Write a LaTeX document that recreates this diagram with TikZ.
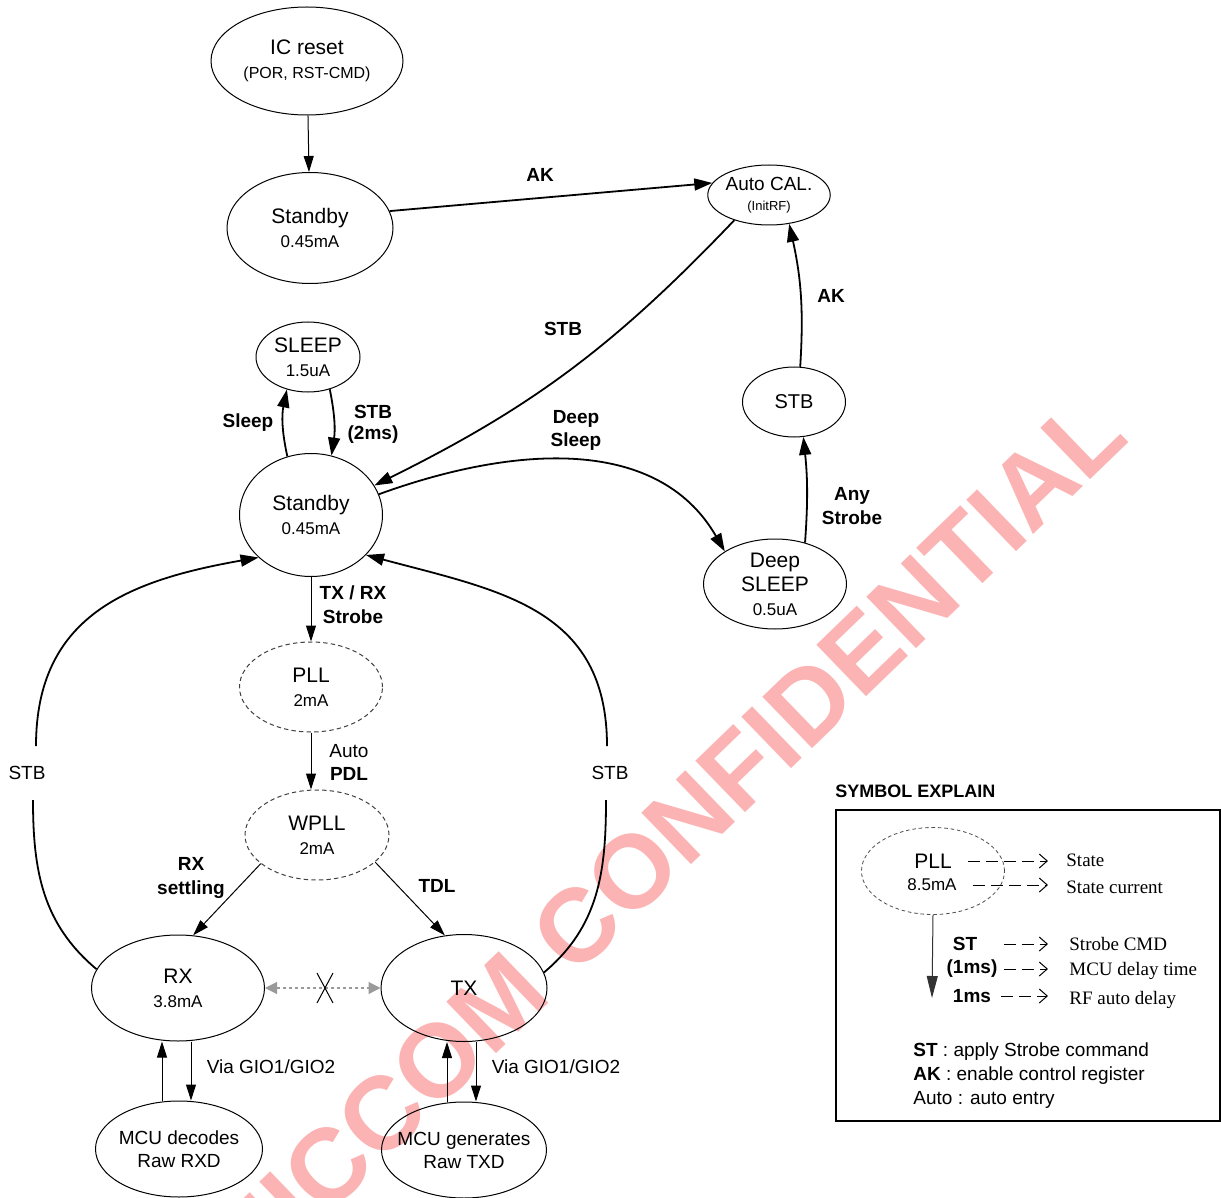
\documentclass[tikz,border=0pt]{standalone}
\usepackage{fontspec}
\setmainfont{Liberation Sans}
\newfontfamily\lgserif{Liberation Serif}
\usetikzlibrary{arrows.meta,shapes.geometric}
\definecolor{FsmGray}{HTML}{9A9A9A}
\definecolor{FsmMark}{HTML}{FCB3B3}
\tikzset{
  fsmstate/.style={
    draw,
    ellipse,
    inner sep=0pt,
    align=center,
    line width=.5pt,
    font=\fontsize{10.5}{12}\selectfont
  },
  fsmwait/.style={
    fsmstate,
    draw=black!75,
    dash pattern=on 2.2pt off 1.6pt
  },
  fsmlabel/.style={font=\bfseries\fontsize{9.5}{11.5}\selectfont,align=center,inner sep=1pt},
  fsmnote/.style={font=\fontsize{9.5}{11.5}\selectfont,align=center,inner sep=1pt},
  fsmarrow/.style={-{Triangle[length=9pt,width=6pt]},line width=.9pt},
  fsmline/.style={line width=.9pt},
  fsmthin/.style={-{Triangle[length=8pt,width=5pt]},line width=.5pt},
  fsmnogo/.style={{Triangle[length=6pt,width=6pt]}-{Triangle[length=6pt,width=6pt]},
    draw=FsmGray,dash pattern=on 1.5pt off 1.5pt,line width=.6pt},
  lgdash/.style={-{Straight Barb[length=4pt,width=7pt]},dash pattern=on 6pt off 3pt,line width=.5pt},
  lgtext/.style={font=\lgserif\fontsize{9.5}{11}\selectfont,anchor=west,inner sep=0pt}
}
\newcommand{\fsmcur}[1]{{\fontsize{8.5}{12}\selectfont #1}}

\begin{document}
\begin{tikzpicture}[x=0.5pt,y=-0.5pt]
  \useasboundingbox (0,0) rectangle (1221,1198);
  % watermark, behind the diagram
  \begin{scope}
    \clip (0,0) rectangle (1221,1198);
    \node[rotate=44,anchor=base east,text=FsmMark,inner sep=0pt,
      font=\bfseries\fontsize{52}{52}\selectfont] (mark) at (1132,440) {AMICCOM CONFIDENTIAL};
  \end{scope}

  % states
  \node[fsmstate,minimum width=96pt,minimum height=54pt] (icreset) at (307,61)
    {IC reset\\{\fontsize{8}{12}\selectfont (POR, RST-CMD)}};
  \node[fsmstate,minimum width=83pt,minimum height=55.5pt] (stbytop) at (310,228) {Standby\\\fsmcur{0.45mA}};
  \node[fsmstate,minimum width=51pt,minimum height=30pt,font=\fontsize{9.5}{10}\selectfont] (autocal) at (769,195)
    {Auto CAL.\\{\fontsize{6.5}{10}\selectfont (InitRF)}};
  \node[fsmstate,minimum width=52pt,minimum height=35pt] (sleep) at (308,357) {SLEEP\\\fsmcur{1.5uA}};
  \node[fsmstate,minimum width=71.5pt,minimum height=61.5pt] (standby) at (311,515) {Standby\\\fsmcur{0.45mA}};
  \node[fsmstate,minimum width=51.5pt,minimum height=35pt,font=\fontsize{10}{12}\selectfont] (stbr) at (794,402) {STB};
  \node[fsmstate,minimum width=71.5pt,minimum height=45pt] (deepsleep) at (775,584) {Deep\\SLEEP\\\fsmcur{0.5uA}};
  \node[fsmwait,minimum width=71.5pt,minimum height=45pt] (pll) at (311,687) {PLL\\\fsmcur{2mA}};
  \node[fsmwait,minimum width=72pt,minimum height=45pt] (wpll) at (317,835) {WPLL\\\fsmcur{2mA}};
  \node[fsmstate,minimum width=86.5pt,minimum height=53pt] (rx) at (178,988) {RX\\\fsmcur{3.8mA}};
  \node[fsmstate,minimum width=83pt,minimum height=53.5pt] (tx) at (464,988) {TX};
  \node[fsmstate,minimum width=83.5pt,minimum height=48pt,inner xsep=-6pt,font=\fontsize{9.5}{11.5}\selectfont] (mcurx) at (179,1149)
    {MCU decodes\\Raw RXD};
  \node[fsmstate,minimum width=82.5pt,minimum height=48pt,inner xsep=-6pt,font=\fontsize{9.5}{11.5}\selectfont] (mcutx) at (464,1150)
    {MCU generates\\Raw TXD};

  % labels
  \node[fsmlabel] (lblak) at (540,175) {AK};
  \node[fsmlabel] (lblstb) at (563,329) {STB};
  \node[fsmlabel] (lblsleep) at (248,423) {Sleep};
  \node[fsmlabel,font=\bfseries\fontsize{9.5}{10.5}\selectfont] (lblwake) at (373,424) {STB\\(2ms)};
  \node[fsmlabel] (lbldeep) at (576,430) {Deep\\Sleep};
  \node[fsmlabel] (lblakr) at (831,296) {AK};
  \node[fsmlabel,font=\bfseries\fontsize{9.5}{12}\selectfont] (lblany) at (852,506) {Any\\Strobe};
  \node[fsmlabel,font=\bfseries\fontsize{9.5}{12}\selectfont] (lbltrx) at (353,605) {TX / RX\\Strobe};
  \node[fsmnote] (lblpdl) at (349,762) {Auto\\\textbf{PDL}};
  \node[fsmlabel,font=\bfseries\fontsize{9.5}{12}\selectfont] (lblrxs) at (191,878) {RX\\settling};
  \node[fsmlabel] (lbltdl) at (437,886) {TDL};
  \node[fsmnote] (lblgior) at (271,1067) {Via GIO1/GIO2};
  \node[fsmnote] (lblgiot) at (556,1067) {Via GIO1/GIO2};
  \node[fsmnote] (stbleft) at (27,773) {STB};
  \node[fsmnote] (stbright) at (610,773) {STB};
  \coordinate (stbLlo) at (33,800);
  \coordinate (stbLhi) at (36,746);
  \coordinate (stbRlo) at (606,800);
  \coordinate (stbRhi) at (607,746);
  \coordinate (nox) at (325,988);

  % transitions
  \draw[fsmthin] (icreset) -- (stbytop);
  \draw[fsmarrow] (stbytop.12) -- (autocal.168);
  \draw[fsmarrow] (autocal.216) to[bend left=10] (standby.25);
  \draw[fsmarrow] (standby.112) to[bend left=12] (sleep.237);
  \draw[fsmarrow] (sleep.304) to[bend left=10] (standby.71);
  \draw[fsmarrow] (standby.17) to[out=20,in=120] (deepsleep.147);
  \draw[fsmarrow] (deepsleep.54) to[bend right=5] (stbr.285);
  \draw[fsmarrow] (stbr.80) to[bend right=8] (autocal.305);
  \draw[fsmthin] (standby) -- (pll);
  \draw[fsmthin] (pll.south) -- (pll.south |- wpll.north);
  \draw[fsmthin] (wpll.207) -- (rx.74);
  \draw[fsmthin] (wpll.335) -- (tx.110);
  \draw[fsmnogo] (rx) -- (tx);
  \draw[line width=.5pt] (nox) ++(-8,-15) -- ++(16,30);
  \draw[line width=.5pt] (nox) ++(8,-15) -- ++(-16,30);
  \draw[fsmline] (rx.167) to[out=140,in=-90] (stbLlo);
  \draw[fsmarrow] (stbLhi) to[out=90,in=190,looseness=1.15] (standby.219);
  \draw[fsmline] (tx.11) to[out=40,in=-90] (stbRlo);
  \draw[fsmarrow] (stbRhi) to[out=90,in=345,looseness=1.15] (standby.-36);
  \draw[fsmthin] (mcurx.north -| 162,0) -- (rx.south -| 162,0);
  \draw[fsmthin] (rx.south -| 191,0) -- (mcurx.north -| 191,0);
  \draw[fsmthin] (mcutx.north -| 447,0) -- (tx.south -| 447,0);
  \draw[fsmthin] (tx.south -| 476,0) -- (mcutx.north -| 476,0);

  % symbol explain
  \node[font=\bfseries\fontsize{9}{11}\selectfont,anchor=west,inner sep=0pt] (lgtitle) at (835,791) {SYMBOL EXPLAIN};
  \node[draw,line width=.75pt,minimum width=192pt,minimum height=155.5pt] (lgbox) at (1028,965.5) {};
  \node[draw=black!70,ellipse,dash pattern=on 1.8pt off 1.4pt,line width=.4pt,
    minimum width=71.5pt,minimum height=43.5pt] (lgpll) at (933,871) {};
  \node[font=\fontsize{10.5}{12}\selectfont,inner sep=1pt] (lgname) at (933,861) {PLL};
  \node[font=\fontsize{8.5}{12}\selectfont,inner sep=1pt] (lgcur) at (932,885) {8.5mA};
  \node[lgtext] (lgstate) at (1066,860) {State};
  \node[lgtext] (lgstatecur) at (1066,887) {State current};
  \node[fsmlabel] (lgst) at (965,944) {ST};
  \node[fsmlabel] (lgms) at (972,969) {(1ms)};
  \node[fsmlabel] (lgauto) at (972,996) {1ms};
  \node[lgtext] (lgcmd) at (1069,944) {Strobe CMD};
  \node[lgtext] (lgmcu) at (1069,971) {MCU delay time};
  \node[lgtext] (lgrf) at (1069,1000) {RF auto delay};
  \coordinate (lgtip) at (1048,0);
  \coordinate (lgdown) at (932,998);
  \draw[lgdash] ([xshift=7pt]lgname.east) -- (lgname.east -| lgtip);
  \draw[lgdash] ([xshift=7pt]lgcur.east) -- (lgcur.east -| lgtip);
  \draw[lgdash] ([xshift=12pt]lgst.east) -- (lgst.east -| lgtip);
  \draw[lgdash] ([xshift=2pt]lgms.east) -- (lgms.east -| lgtip);
  \draw[lgdash] ([xshift=4pt]lgauto.east) -- (lgauto.east -| lgtip);
  \draw[-{Triangle[length=11pt,width=5.5pt]},line width=.5pt,draw=black!80] (lgpll.south) -- (lgdown);
  \node[fsmnote,anchor=west,inner sep=0pt] (lgkeyst) at (913,1052) {\textbf{ST} : apply Strobe command};
  \node[fsmnote,anchor=west,inner sep=0pt] (lgkeyak) at (913,1076) {\textbf{AK} : enable control register};
  \node[fsmnote,anchor=west,inner sep=0pt] (lgkeyauto) at (913,1100) {Auto : auto entry};
\end{tikzpicture}
\end{document}
